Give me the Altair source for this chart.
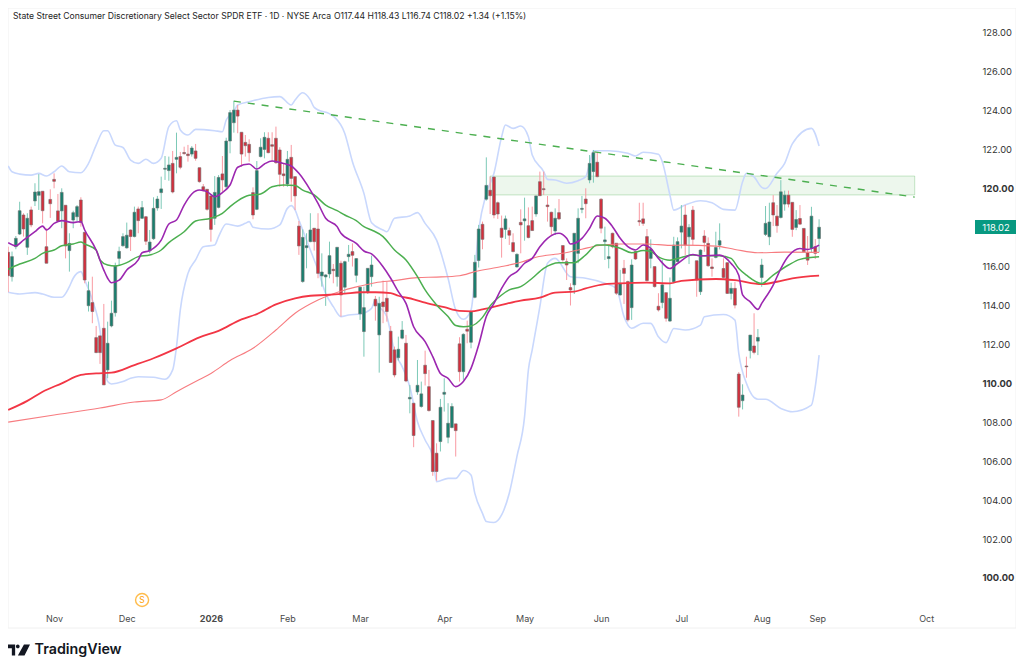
import altair as alt
import pandas as pd

opens = [116.73,115.48,117.02,117.67,118.65,116.99,118.91,119.37,119.66,119.87,
117.02,119.45,120.48,118.86,118.86,119.15,116.82,118.39,118.56,119.42,
117.76,113.99,114.15,112.35,112.44,112.83,110.69,112.95,113.63,116.42,
117.07,116.96,117.88,117.54,118.96,118.48,118.56,116.80,117.43,119.01,
119.80,121.00,120.93,121.30,121.51,121.65,121.86,121.78,121.78,121.94,
121.08,120.10,119.97,119.63,118.48,119.04,120.76,120.10,122.45,123.39,
124.04,122.90,122.38,122.28,119.80,118.94,121.65,122.02,122.59,122.26,
122.59,121.99,120.76,120.24,121.61,120.62,118.08,115.23,116.97,117.28,
117.97,117.93,115.52,115.47,115.62,115.86,115.48,116.17,114.94,116.51,
116.77,115.55,113.57,112.66,114.66,115.48,114.32,112.49,114.18,114.37,
112.68,111.72,111.32,112.32,112.06,109.20,108.98,109.56,108.81,110.93,
109.83,108.09,106.41,107.01,109.44,107.23,107.73,107.92,112.03,110.60,
112.78,112.11,114.42,116.31,118.17,119.46,119.92,120.60,119.28,117.97,
117.91,117.85,117.23,115.98,118.27,118.35,118.10,118.36,118.70,120.36,
120.00,119.16,118.79,117.83,118.77,117.08,116.25,114.92,115.06,116.68,
118.94,119.47,120.45,120.88,121.36,119.46,117.28,116.41,117.71,117.20,
114.54,115.91,115.23,113.89,116.77,118.36,118.45,117.54,116.42,116.00,
113.96,114.15,114.66,113.20,115.22,116.25,117.77,118.65,117.53,118.90,
116.30,114.71,117.57,117.19,115.98,116.47,117.10,115.90,116.20,114.62,
114.88,110.48,109.11,110.89,111.68,111.92,112.17,115.44,117.65,117.53,
119.28,118.59,118.52,119.21,119.67,119.30,118.01,118.47,117.96,116.71,
116.93,117.02,117.44]
highs = [117.02,116.77,117.57,119.33,118.74,118.74,119.08,120.28,120.75,119.87,
117.97,119.97,120.79,119.73,120.02,119.15,117.71,118.87,119.16,119.56,
117.76,115.23,115.48,112.95,112.44,114.08,113.17,114.25,116.20,117.02,
117.71,118.26,117.91,119.08,119.08,119.37,118.60,117.88,119.56,119.63,
120.62,121.68,121.65,121.94,122.88,121.89,122.16,122.25,122.19,122.30,
121.08,120.24,119.97,119.63,120.65,120.70,121.68,122.62,124.04,124.52,
124.30,122.90,122.76,122.54,120.07,121.42,122.59,122.90,122.90,122.90,
123.19,122.13,121.30,121.94,122.25,120.62,118.34,117.91,117.71,118.74,
117.97,118.74,116.68,115.60,117.28,116.13,116.99,116.30,116.30,117.11,
117.19,116.43,114.97,114.97,115.91,116.56,114.49,114.45,115.28,115.23,
112.95,111.89,112.40,113.20,112.49,109.92,108.98,111.20,110.09,111.68,
110.69,108.09,106.92,109.20,110.26,108.98,108.98,107.92,112.37,112.57,
113.22,113.69,116.60,118.14,118.31,121.61,120.62,120.62,119.34,118.62,
118.62,118.00,117.71,116.68,118.94,119.54,119.04,119.08,119.63,120.88,
120.88,119.63,118.82,118.99,119.47,117.08,116.42,115.14,117.71,118.99,
119.63,120.02,121.73,121.99,121.85,119.51,118.05,117.06,117.74,117.20,
115.83,116.34,115.28,116.37,116.80,119.28,119.28,117.93,117.40,116.00,
114.63,116.34,114.66,115.44,117.53,117.50,119.16,119.16,118.18,119.11,
116.30,116.88,117.87,117.50,116.42,117.79,118.22,116.42,116.20,115.17,
115.22,110.58,109.95,111.37,112.48,113.60,112.79,116.40,119.11,119.28,
119.67,119.16,120.44,119.90,119.90,119.30,118.90,119.16,117.96,117.57,
119.07,117.41,118.43]
lows = [114.68,115.23,116.89,117.62,117.54,116.60,118.02,119.11,118.91,118.22,
116.17,118.50,120.02,118.31,117.97,116.42,115.74,117.97,118.31,118.05,
115.14,113.69,113.09,111.55,111.00,109.92,110.26,112.88,113.43,116.08,
117.02,116.92,116.80,117.50,117.71,118.44,117.11,116.68,117.37,118.87,
118.96,120.45,120.41,119.76,120.79,121.00,121.75,121.39,121.65,121.44,
120.31,119.85,118.87,117.28,118.14,118.99,119.85,119.93,121.82,122.88,
122.85,121.13,121.65,121.39,118.43,118.90,121.61,121.56,121.82,121.39,
121.27,120.10,120.10,120.10,119.33,118.90,116.60,115.17,115.91,117.25,
116.82,115.40,114.97,113.98,115.40,115.14,114.97,113.43,114.60,116.25,
116.00,115.19,113.26,111.37,114.60,114.97,113.22,110.55,113.09,113.17,
111.07,110.31,111.17,112.26,110.06,108.46,106.72,109.41,108.75,109.89,
108.55,105.25,105.00,106.50,108.55,106.92,107.69,106.24,110.09,110.18,
112.06,111.80,114.37,115.95,116.89,119.39,118.70,118.48,118.45,116.46,
117.42,117.11,116.73,115.95,116.68,117.33,117.45,117.83,118.56,119.63,
119.68,118.31,117.59,117.62,118.39,116.25,115.31,114.00,114.59,116.17,
118.74,118.48,120.28,120.31,120.58,117.71,116.34,115.91,116.94,114.54,
114.51,114.08,113.17,113.26,116.34,118.09,118.09,115.23,115.91,114.92,
113.69,113.86,113.17,113.17,115.14,116.21,116.93,116.59,116.13,117.10,
114.45,114.54,116.76,115.99,115.48,116.42,116.88,115.39,114.59,114.31,
113.85,108.29,108.66,110.29,111.28,111.49,111.45,114.96,117.57,117.10,
118.08,117.74,118.47,118.87,119.04,117.53,117.87,118.13,116.73,116.08,
116.71,116.39,116.74]
closes = [115.53,116.51,117.45,118.87,117.93,118.48,118.14,119.83,119.85,118.87,
116.17,119.23,120.38,118.34,119.81,117.06,117.19,118.77,119.08,118.27,
115.31,114.76,113.69,111.58,111.58,109.92,112.06,113.60,116.03,116.78,
117.54,117.61,117.54,118.79,118.36,119.03,117.30,117.26,118.99,119.47,
119.99,121.05,121.22,119.83,121.61,121.10,121.80,121.70,122.09,121.56,
120.36,119.90,118.94,117.91,119.81,120.58,120.45,122.45,123.91,124.04,
123.73,121.78,122.21,121.85,118.65,120.93,122.13,122.64,121.85,122.18,
121.34,120.74,120.67,121.51,120.53,119.63,117.06,117.50,117.07,117.88,
117.28,115.65,115.72,115.57,116.56,115.79,116.99,114.54,116.25,116.63,
116.58,116.41,114.94,113.89,115.91,116.08,113.98,114.11,113.94,113.69,
111.07,110.43,111.75,112.74,110.12,109.28,107.32,109.90,109.46,110.50,
108.60,105.47,105.47,108.77,109.54,107.95,108.81,107.57,110.60,112.52,
112.68,113.69,116.22,117.93,117.40,120.17,119.64,118.65,118.70,117.50,
118.45,117.61,116.77,116.63,118.14,118.45,117.49,117.85,119.63,119.64,
119.95,119.08,118.05,118.48,118.45,116.34,116.08,114.80,117.71,118.48,
118.99,119.23,121.30,121.85,120.62,117.97,117.37,116.51,117.02,114.63,
115.14,115.65,113.26,116.08,116.39,118.30,118.22,115.28,116.90,114.97,
113.77,115.06,113.34,114.37,117.10,117.28,118.08,117.10,118.01,117.40,
115.31,116.85,117.24,116.04,115.90,116.98,117.33,115.44,114.62,114.88,
114.02,108.77,109.40,110.85,112.48,111.59,112.36,116.08,118.22,118.29,
118.65,118.10,119.84,119.67,119.21,117.91,118.42,118.18,116.76,116.33,
118.59,116.68,118.02]

sma20_i = [0,2,4,7,9,10,12,14,17,19,20,23,25,26,27,29,31,34,35,37,40,42,44,46,48,50,52,54,56,58,60,63,65,67,69,71,74,76,79,81,83,86,87,91,93,95,98,100,102,104,106,109,111,113,115,117,119,121,123,125,127,129,131,133,135,137,139,141,144,146,147,150,152,154,156,158,160,162,164,166,168,170,173,175,179,181,186,189,191,192,194,196,197,200,202,204,207,209,212]
sma20_v = [117.23,117.07,117.36,117.79,118.08,117.88,118.22,118.36,118.26,118.31,117.88,116.85,115.82,115.4,115.17,115.3,115.82,116.34,116.71,116.82,117.36,118.19,118.39,119.16,119.73,119.93,119.85,119.59,119.8,120.19,121.1,121.27,121.01,121.27,121.42,121.34,121.17,120.79,119.93,119.25,118.48,118.05,117.71,117.19,116.8,116.65,115.99,115.4,114.71,114.11,112.91,112.14,111.37,110.51,110.26,109.83,110.09,110.77,111.97,113.43,114.11,114.88,115.48,115.74,116.17,116.42,117.02,117.45,117.71,117.45,117.16,117.45,117.97,118.6,118.48,118.05,117.45,117.02,116.85,117.11,116.93,116.42,115.9,116.16,116.62,116.54,116.59,116.16,115.56,114.54,114.19,113.8,114.11,115.05,115.9,116.54,116.93,116.88,117.1]

sma50_i = [0,3,7,9,12,14,17,19,20,23,24,26,28,31,34,37,40,42,46,49,53,56,58,60,63,66,69,72,75,77,80,83,86,88,91,93,95,98,101,104,107,109,112,115,117,119,121,124,126,129,131,134,137,140,144,148,151,154,156,160,163,166,168,170,173,176,179,182,186,189,191,193,197,200,204,207,212]
sma50_v = [115.86,116.13,116.42,116.68,116.85,117.07,117.16,117.26,117.16,116.85,116.34,116.08,116.03,116.2,116.51,116.59,116.85,117.23,117.79,118.34,118.48,118.73,119.08,119.38,119.66,119.73,120.1,120.19,120.16,119.93,119.68,119.16,118.87,118.65,118.36,118.05,117.88,117.54,116.85,116.34,115.48,114.8,114.03,113.43,112.97,112.91,112.95,113.39,113.98,114.54,114.8,114.97,115.4,115.91,116.2,116.2,116.6,117.11,117.11,116.94,116.71,116.82,116.77,116.5,116.33,116.47,116.59,116.56,116.56,116.42,115.9,115.56,115.13,115.56,116.08,116.37,116.5]

ma_thick_i = [0,5,9,14,19,23,27,33,38,44,50,55,61,65,70,75,79,83,88,92,96,100,102,106,109,114,118,121,124,129,134,139,143,148,151,156,160,167,173,176,185,190,197,201,205,212]
ma_thick_v = [108.63,109.1,109.57,110.0,110.43,110.51,110.55,110.94,111.29,111.8,112.36,112.7,113.29,113.56,114.06,114.37,114.5,114.54,114.61,114.68,114.68,114.63,114.5,114.32,114.15,113.91,113.72,113.7,113.8,114.03,114.25,114.4,114.66,114.71,114.88,115.1,115.14,115.17,115.14,115.27,115.36,115.3,115.1,115.22,115.39,115.53]

ma_thin_i = [0,12,24,33,40,44,50,53,58,64,70,75,81,88,92,96,101,107,112,118,122,129,134,138,145,150,154,160,167,173,176,185,190,196,203,212]
ma_thin_v = [108.01,108.37,108.73,109.04,109.15,109.57,110.2,110.51,111.17,111.8,112.74,113.6,114.28,114.8,115.0,115.17,115.28,115.43,115.46,115.53,115.74,116.0,116.22,116.48,116.68,116.89,117.07,117.16,117.16,117.09,117.1,117.05,116.88,116.71,116.74,116.73]

bb_up_i = [0,1,3,6,8,10,12,14,16,19,21,23,25,26,28,30,32,34,36,38,40,42,44,45,47,49,54,56,57,59,60,63,68,71,74,75,77,79,80,85,88,90,93,95,98,99,101,105,107,109,112,115,117,119,121,123,125,127,129,130,132,134,136,137,140,141,143,146,149,151,152,153,157,162,164,166,170,171,173,174,177,181,184,187,190,192,193,195,197,198,201,203,205,210,212]
bb_up_v = [121.17,120.87,120.75,120.7,120.79,120.65,120.87,121.17,120.87,120.82,121.3,122.24,122.98,122.98,122.24,122.12,121.47,121.3,121.51,121.3,121.56,123.19,123.49,123.02,122.76,123.05,122.98,122.93,123.53,123.96,124.3,124.47,124.69,124.73,124.3,124.56,124.93,124.56,124.18,123.73,122.84,121.39,119.76,118.25,117.88,117.79,118.48,118.6,118.77,118.22,117.36,115.4,113.77,113.29,113.77,117.88,119.76,120.79,122.67,123.27,123.1,123.22,122.67,121.73,120.88,120.48,120.45,120.28,120.41,120.62,121.3,121.95,121.95,121.82,121.68,121.87,121.77,121.39,119.68,118.9,119.16,119.38,119.28,118.94,118.9,120.36,120.79,120.61,120.07,120.01,120.79,121.3,122.3,123.1,122.19]

bb_lo_i = [0,3,7,9,12,14,16,17,19,20,22,24,25,26,27,30,32,34,38,41,43,44,45,47,49,51,54,55,57,60,62,63,64,68,71,73,74,75,76,79,81,83,85,87,89,92,95,96,97,99,101,103,105,107,109,111,112,115,117,119,121,122,124,125,127,129,131,133,135,136,137,139,141,143,147,151,156,159,161,163,166,168,170,172,174,177,181,182,187,190,191,193,196,198,202,205,210,211,212]
bb_lo_v = [114.68,114.59,114.66,114.59,114.42,114.42,114.97,115.4,115.74,115.31,114.28,112.74,111.03,110.09,109.97,110.09,110.26,110.34,110.31,110.21,110.69,111.88,113.77,115.65,116.34,117.02,117.11,117.54,118.19,118.08,118.22,118.31,118.02,117.93,118.14,118.99,119.13,118.91,118.39,116.85,115.82,114.62,113.94,113.43,113.51,113.56,113.85,114.28,113.94,113.43,111.63,110.86,109.83,108.03,107.09,106.24,104.95,105.12,105.12,105.52,105.29,104.35,103.32,102.9,102.85,103.24,104.35,106.24,108.29,110.69,111.72,113.94,116.17,116.42,115.48,115.4,115.14,114.88,113.43,112.83,113.09,113.08,112.39,112.09,112.82,112.74,112.99,113.42,113.54,113.25,111.54,110.0,109.18,109.18,108.71,108.54,108.88,109.83,111.45]

zone_i = [126, 237]
zone_p = [120.65, 119.68]
trend_i = [59, 237]
trend_p = [124.5, 119.57]

month_ticks = [12, 31, 53, 73, 92, 114, 135, 155, 176, 197, 211.5, 240]
month_names = ["Nov", "Dec", "2026", "Feb", "Mar", "Apr", "May", "Jun", "Jul", "Aug", "Sep", "Oct"]
price_ticks = [100, 102, 104, 106, 108, 110, 112, 114, 116, 120, 122, 124, 126, 128]
header = "State Street Consumer Discretionary Select Sector SPDR ETF · 1D · NYSE Arca"
ohlc_text = "O117.44  H118.43  L116.74  C118.02  +1.34 (+1.15%)"
last_price = "118.02"
dividend_i = [35]

FONT = "Inter"
W, H = 967, 620
xs = alt.Scale(domain=[-0.05, 252.76], nice=False, zero=False, padding=0)
ys = alt.Scale(domain=[97.431, 129.284], nice=False, zero=False, padding=0)

df = pd.DataFrame({"i": range(len(opens)), "o": opens, "h": highs, "l": lows, "c": closes})
df["up"] = df.c >= df.o

label_expr = "{" + ",".join(f"'{t}':'{n}'" for t, n in zip(month_ticks, month_names)) + "}[''+datum.value]"
x_axis = alt.Axis(
    values=month_ticks, labelExpr=label_expr, grid=False, domain=False, ticks=False,
    offset=-14, labelPadding=0, labelFont=FONT, labelFontSize=9, labelColor="#4a4a4a",
    labelOverlap=False, labelFlush=False, labelBound=False, title=None,
    labelFontWeight={"condition": {"test": "datum.value == 53", "value": 700}, "value": 400})
y_axis = alt.Axis(
    orient="right", values=price_ticks, format=".2f", grid=False, domain=False, ticks=False,
    labelPadding=7, labelFont=FONT, labelFontSize=9.4, labelColor="#333333",
    labelAlign="left", labelOverlap=False, labelFlush=False, labelBound=False, title=None,
    labelFontWeight={"condition": {"test": "datum.value % 10 == 0", "value": 700}, "value": 400})

X = alt.X("i:Q", scale=xs, axis=x_axis)
Y = alt.Y("p:Q", scale=ys, axis=y_axis)

zone_df = pd.DataFrame({"i": [zone_i[0]], "i2": [zone_i[1]], "p": [zone_p[0]], "p2": [zone_p[1]]})
zone = alt.Chart(zone_df).mark_rect(fill="#4caf50", fillOpacity=0.1, stroke="#4caf50", strokeOpacity=0.3, strokeWidth=1).encode(
    x=X, x2="i2:Q", y=Y, y2="p2:Q")


def line(i, v, color, width, dash=None):
    d = pd.DataFrame({"i": i, "p": v})
    kw = {"strokeDash": dash} if dash else {"interpolate": "monotone"}
    return alt.Chart(d).mark_line(color=color, strokeWidth=width, clip=True, **kw).encode(x=X, y=Y)


up_dom = [True, False]
wicks = alt.Chart(df).mark_rule(strokeWidth=1).encode(
    x=X, y=alt.Y("l:Q", scale=ys, axis=y_axis), y2="h:Q",
    color=alt.Color("up:N", legend=None, scale=alt.Scale(domain=up_dom, range=["#7cc9b7", "#f99aa2"])))
bodies = alt.Chart(df).mark_bar(size=2.8, stroke="#6f6f6f", strokeWidth=0.6).encode(
    x=X, y=alt.Y("o:Q", scale=ys, axis=y_axis), y2="c:Q",
    fill=alt.Fill("up:N", legend=None, scale=alt.Scale(domain=up_dom, range=["#18806f", "#d42f3d"])))

title = alt.Chart(pd.DataFrame({"t": [header]})).mark_text(
    align="left", baseline="middle", font=FONT, fontSize=8.65, color="#1e1e1e").encode(
    x=alt.value(5), y=alt.value(8), text="t:N")
ohlc = alt.Chart(pd.DataFrame({"t": [ohlc_text]})).mark_text(
    align="left", baseline="middle", font=FONT, fontSize=8.65, color="#1e1e1e").encode(
    x=alt.value(326), y=alt.value(8), text="t:N")

frame = alt.Chart(pd.DataFrame({"a": [1]})).mark_rect(fill="#ffffff", fillOpacity=0, stroke="#f0f0f0", strokeWidth=1).encode(
    x=alt.value(0), x2=alt.value(1008), y=alt.value(0), y2=alt.value(620))
price_box = alt.Chart(pd.DataFrame({"a": [1]})).mark_rect(color="#089981").encode(
    x=alt.value(967), x2=alt.value(1008), y=alt.value(212), y2=alt.value(226))
price_txt = alt.Chart(pd.DataFrame({"t": [last_price]})).mark_text(
    align="center", baseline="middle", font=FONT, fontSize=9.4, color="#ffffff").encode(
    x=alt.value(988), y=alt.value(219.5), text="t:N")

div_df = pd.DataFrame({"i": dividend_i, "t": ["S"]})
div_c = alt.Chart(div_df).mark_point(shape="circle", size=170, stroke="#ffa000", strokeWidth=1.4, fill="#ffffff", filled=True).encode(x=X, y=alt.value(592))
div_t = alt.Chart(div_df).mark_text(font=FONT, fontSize=8.5, color="#ffa000", align="center", baseline="middle").encode(x=X, y=alt.value(592), text="t:N")

LOGO = "M-1,-0.5 H-0.35 V0.5 H-0.65 V-0.15 H-1 Z M-0.28,-0.32 A0.17,0.17 0 1,1 0.06,-0.32 A0.17,0.17 0 1,1 -0.28,-0.32 Z M0.45,-0.5 H1 L0.5,0.5 H-0.1 Z"
logo_i = alt.Chart(pd.DataFrame({"a": [1]})).mark_point(shape=LOGO, size=484, fill="#131722", filled=True, opacity=1, strokeWidth=0).encode(
    x=alt.value(11), y=alt.value(642))
logo_t = alt.Chart(pd.DataFrame({"t": ["TradingView"]})).mark_text(
    font=FONT, fontSize=14.3, fontWeight=600, align="left", baseline="middle", color="#131722").encode(
    x=alt.value(26.5), y=alt.value(642), text="t:N")

chart = alt.layer(
    frame, zone,
    line(bb_up_i, bb_up_v, "#c9d8fd", 1.6),
    line(bb_lo_i, bb_lo_v, "#c9d8fd", 1.6),
    wicks, bodies,
    line(ma_thin_i, ma_thin_v, "#f77c80", 1.1),
    line(ma_thick_i, ma_thick_v, "#f23645", 1.8),
    line(sma50_i, sma50_v, "#4caf50", 1.5),
    line(sma20_i, sma20_v, "#9c27b0", 1.6),
    line(trend_i, trend_p, "#4caf50", 1.4, [7, 7]),
    title, ohlc, price_box, price_txt, div_c, div_t, logo_i, logo_t,
).resolve_scale(color="independent", fill="independent").properties(
    width=W, height=H, autosize="none",
    padding={"left": 0, "top": 0, "right": 41, "bottom": 36},
    background="#ffffff",
).configure_view(strokeWidth=0)

chart.save("out.html", embed_options={"renderer": "svg", "actions": False})
